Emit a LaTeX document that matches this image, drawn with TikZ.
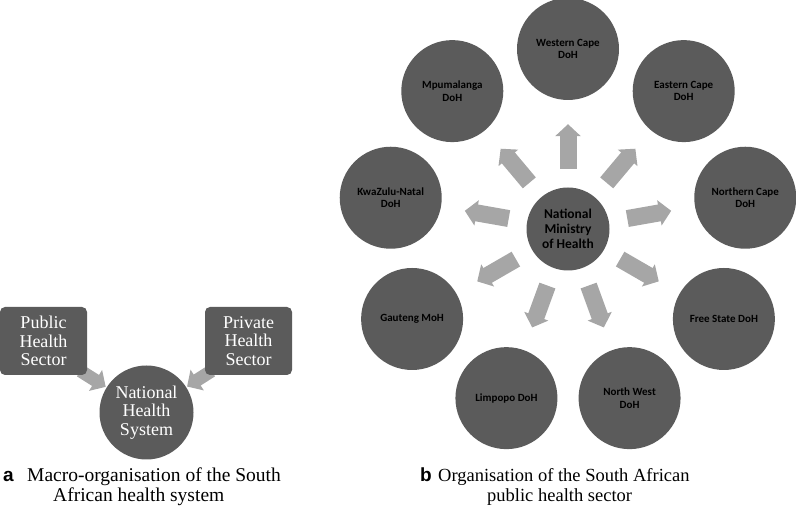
\documentclass[tikz,border=0pt]{standalone}
\usepackage{fontspec}
\setmainfont{Liberation Serif}
\newfontfamily\carlitobold{Carlito Bold}
\newfontfamily\arialbold{Liberation Sans Bold}
\usetikzlibrary{arrows.meta,backgrounds,calc}
\definecolor{discgray}{RGB}{91,91,91}
\definecolor{arrgray}{RGB}{166,166,166}
\tikzset{
  disc/.style={circle, fill=discgray, draw=none, minimum size=102pt, inner sep=0pt, align=center,
    font=\carlitobold\fontsize{11}{12.5}\selectfont, text=black},
  hubdisc/.style={circle, fill=discgray, draw=none, minimum size=83pt, inner sep=0pt, align=center,
    font=\carlitobold\fontsize{13.5}{15}\selectfont, text=black},
  sectorbox/.style={rectangle, rounded corners=5pt, fill=discgray, draw=none, minimum width=87pt,
    minimum height=68pt, inner sep=0pt, align=center, text=white, font=\fontsize{18}{18.5}\selectfont},
  nhsdisc/.style={circle, fill=discgray, draw=none, minimum size=94pt, inner sep=0pt, align=center,
    text=white, font=\fontsize{18}{18.5}\selectfont},
  blockarrow/.style={draw=arrgray, line width=17pt, -{Triangle[width=25pt,length=12pt]},
    shorten <=18.5pt, shorten >=24pt},
  smallarrow/.style={draw=arrgray, line width=13pt, -{Triangle[width=24pt,length=12pt]}},
  captext/.style={anchor=base west, inner sep=0pt, font=\fontsize{18.5}{22}\selectfont},
  caplabel/.style={anchor=base west, inner sep=0pt, font=\arialbold\fontsize{19}{22}\selectfont}
}
\begin{document}
\begin{tikzpicture}[x=1pt,y=1pt]
\useasboundingbox (0,0) rectangle (796,510);
% ---------- panel a ----------
\node[sectorbox] (pub) at (43.5,169) {Public\\Health\\Sector};
\node[sectorbox] (priv) at (248.5,169) {Private\\Health\\Sector};
\node[nhsdisc] (nhs) at (146.5,97.5) {National\\Health\\System};
\begin{scope}[on background layer]
\draw[smallarrow, shorten <=-8pt, shorten >=1pt] (pub.south east) -- (nhs);
\draw[smallarrow, shorten <=-8pt, shorten >=1pt] (priv.south west) -- (nhs);
\end{scope}
\node[caplabel] (la) at (3,28) {a};
\node[captext, font=\fontsize{19.5}{22}\selectfont] (ca1) at (27,28) {Macro-organisation of the South};
\node[captext, font=\fontsize{19.5}{22}\selectfont] (ca2) at (53,8.5) {African health system};
% ---------- panel b ----------
\node[hubdisc] (nmh) at (568,281) {National\\Ministry\\of Health};
\node[disc] (wc)  at ($(nmh)+(90:180)$)  {Western Cape\\DoH};
\node[disc] (ec)  at ($(nmh)+(50:180)$)  {Eastern Cape\\DoH};
\node[disc] (nc)  at ($(nmh)+(10:180)$)  {Northern Cape\\DoH};
\node[disc] (fs)  at ($(nmh)+(-30:180)$) {Free State DoH};
\node[disc] (nw)  at ($(nmh)+(-70:180)$) {North West\\DoH};
\node[disc] (lp)  at ($(nmh)+(-110:180)$) {Limpopo DoH};
\node[disc] (gt)  at ($(nmh)+(-150:180)$) {Gauteng MoH};
\node[disc] (kzn) at ($(nmh)+(170:180)$) {KwaZulu-Natal\\DoH};
\node[disc] (mp)  at ($(nmh)+(130:180)$) {Mpumalanga\\DoH};
\foreach \t in {wc,ec,nc,fs,nw,lp,gt,kzn,mp}
  \draw[blockarrow] (nmh) -- (\t);
\node[caplabel] (lb) at (420,28) {b};
\node[captext] (cb1) at (438,28) {Organisation of the South African};
\node[captext] (cb2) at (487,8.5) {public health sector};
\end{tikzpicture}
\end{document}
